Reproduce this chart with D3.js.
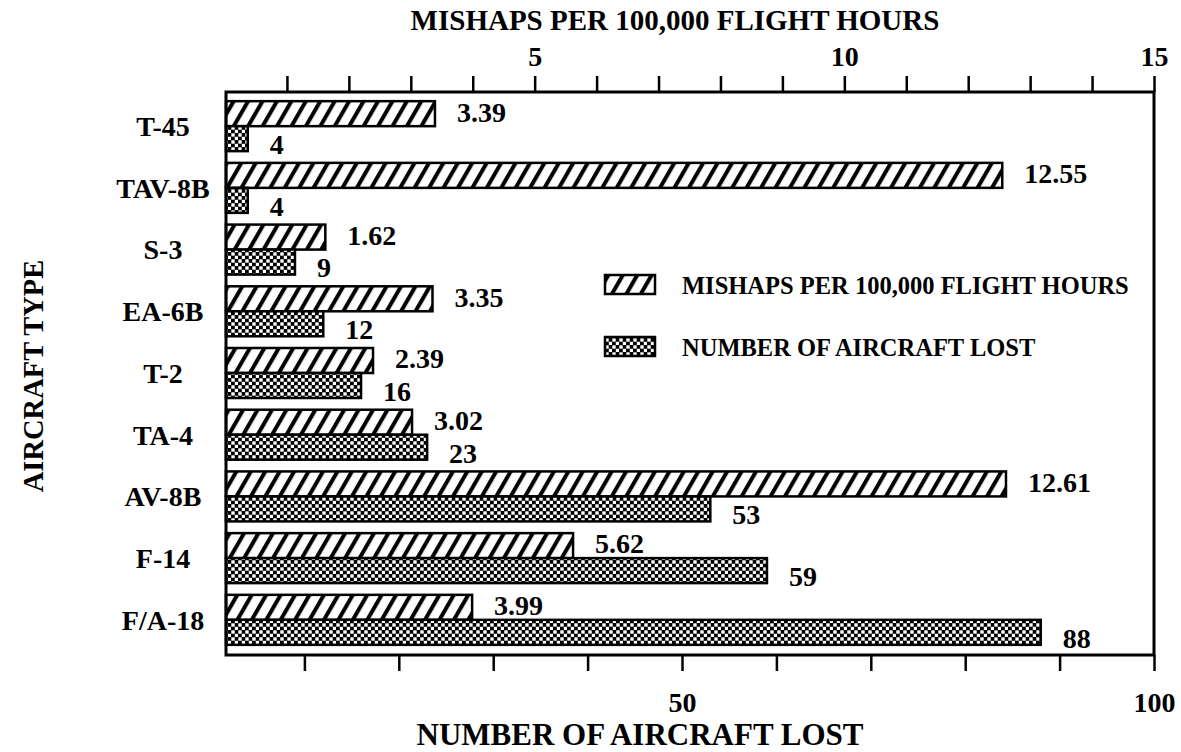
<!DOCTYPE html>
<html>
<head>
<meta charset="utf-8">
<script src="https://cdn.jsdelivr.net/npm/d3@7"></script>
<style>
  body { margin: 0; background: #fff; }
  text { font-family: "Liberation Serif", "Times New Roman", serif; font-weight: bold; fill: #000; }
</style>
</head>
<body>
<div id="chart"></div>
<script>
// aircraft types, top to bottom
var types = ["T-45", "TAV-8B", "S-3", "EA-6B", "T-2", "TA-4", "AV-8B", "F-14", "F/A-18"];
// mishaps per 100,000 flight hours (top axis)
var mishapRates = [3.39, 12.55, 1.62, 3.35, 2.39, 3.02, 12.61, 5.62, 3.99];
// number of aircraft lost (bottom axis)
var aircraftLost = [4, 4, 9, 12, 16, 23, 53, 59, 88];

var topTicks = d3.range(1, 16);
var topTickLabels = [5, 10, 15];
var bottomTicks = d3.range(10, 101, 10);
var bottomTickLabels = [50, 100];

var legendLabels = ["MISHAPS PER 100,000 FLIGHT HOURS", "NUMBER OF AIRCRAFT LOST"];

(function(){
	var W = 1181, H = 752;
	var plotLeft = 226, plotRight = 1154, plotTop = 92, plotBottom = 655;
	var fs = 28;

	var svg = d3.select("#chart").append("svg")
		.attr("width", W)
		.attr("height", H);

	var defs = svg.append("defs");

	// diagonal hatch
	var hatch = defs.append("pattern")
		.attr("id", "hatch")
		.attr("patternUnits", "userSpaceOnUse")
		.attr("width", 12.5)
		.attr("height", 12.5)
		.attr("patternTransform", "rotate(30)");
	hatch.append("rect").attr("width", 12.5).attr("height", 12.5).attr("fill", "#fff");
	hatch.append("line")
		.attr("x1", 3).attr("y1", 0).attr("x2", 3).attr("y2", 12.5)
		.attr("stroke", "#000").attr("stroke-width", 4);

	// checker
	var check = defs.append("pattern")
		.attr("id", "check")
		.attr("patternUnits", "userSpaceOnUse")
		.attr("width", 7)
		.attr("height", 7);
	check.append("rect").attr("width", 7).attr("height", 7).attr("fill", "#000");
	check.append("rect").attr("x", 0.3).attr("y", 0.3).attr("width", 3.4).attr("height", 3.4).attr("fill", "#fff");
	check.append("rect").attr("x", 3.8).attr("y", 3.8).attr("width", 3.4).attr("height", 3.4).attr("fill", "#fff");

	var xTop = d3.scaleLinear().domain([0, 15]).range([225, plotRight]);
	var xBot = d3.scaleLinear().domain([0, 100]).range([210, plotRight]);
	var y = d3.scaleBand().domain(types).range([95, 651]).paddingInner(0.19).paddingOuter(0.1);
	var half = y.bandwidth() / 2;

	// axes
	var topAxis = d3.axisTop(xTop)
		.tickValues(topTicks)
		.tickSize(16)
		.tickPadding(10)
		.tickFormat(function(d){ return topTickLabels.indexOf(d) >= 0 ? d : ""; });
	var gTop = svg.append("g").attr("transform", "translate(0," + plotTop + ")").call(topAxis);

	var bottomAxis = d3.axisBottom(xBot)
		.tickValues(bottomTicks)
		.tickSize(16)
		.tickPadding(21)
		.tickFormat(function(d){ return bottomTickLabels.indexOf(d) >= 0 ? d : ""; });
	var gBot = svg.append("g").attr("transform", "translate(0," + plotBottom + ")").call(bottomAxis);

	[gTop, gBot].forEach(function(g){
		g.select(".domain").remove();
		g.selectAll(".tick line").attr("stroke", "#000").attr("stroke-width", 2.5);
		g.selectAll(".tick text")
			.attr("font-size", fs)
			.attr("font-family", "Liberation Serif")
			.attr("font-weight", "bold");
	});

	// bars
	var rows = svg.append("g").attr("class", "rows");
	types.forEach(function(t, i){
		var y0 = y(t);
		rows.append("rect")
			.attr("x", plotLeft)
			.attr("y", y0)
			.attr("width", xTop(mishapRates[i]) - plotLeft)
			.attr("height", half)
			.attr("fill", "url(#hatch)")
			.attr("stroke", "#000")
			.attr("stroke-width", 2.5);
		rows.append("rect")
			.attr("x", plotLeft)
			.attr("y", y0 + half)
			.attr("width", xBot(aircraftLost[i]) - plotLeft)
			.attr("height", half)
			.attr("fill", "url(#check)")
			.attr("stroke", "#000")
			.attr("stroke-width", 2.5);

		rows.append("text")
			.attr("x", xTop(mishapRates[i]) + 22)
			.attr("y", y0 + half / 2)
			.attr("dy", "0.28em")
			.attr("font-size", fs)
			.text(d3.format(".2f")(mishapRates[i]));
		rows.append("text")
			.attr("x", xBot(aircraftLost[i]) + 22)
			.attr("y", y0 + half * 1.5)
			.attr("dy", "0.55em")
			.attr("font-size", fs)
			.text(aircraftLost[i]);

		svg.append("text")
			.attr("x", 163)
			.attr("y", y0 + half)
			.attr("dy", "0.35em")
			.attr("text-anchor", "middle")
			.attr("font-size", fs)
			.text(t);
	});

	// frame
	svg.append("rect")
		.attr("x", plotLeft).attr("y", plotTop)
		.attr("width", plotRight - plotLeft).attr("height", plotBottom - plotTop)
		.attr("fill", "none")
		.attr("stroke", "#000")
		.attr("stroke-width", 3);

	// legend
	var legend = svg.append("g").attr("transform", "translate(605,275)");
	["url(#hatch)", "url(#check)"].forEach(function(f, i){
		legend.append("rect")
			.attr("x", 0).attr("y", i * 62)
			.attr("width", 50).attr("height", 19)
			.attr("fill", f)
			.attr("stroke", "#000")
			.attr("stroke-width", 2.5);
		legend.append("text")
			.attr("x", 77).attr("y", i * 62 + 10)
			.attr("dy", "0.35em")
			.attr("font-size", 24.5)
			.text(legendLabels[i]);
	});

	// titles
	svg.append("text")
		.attr("x", 675).attr("y", 30)
		.attr("text-anchor", "middle")
		.attr("font-size", 29)
		.text("MISHAPS PER 100,000 FLIGHT HOURS");
	svg.append("text")
		.attr("x", 640).attr("y", 745)
		.attr("text-anchor", "middle")
		.attr("font-size", 31)
		.text("NUMBER OF AIRCRAFT LOST");
	svg.append("text")
		.attr("transform", "translate(43,376) rotate(-90)")
		.attr("text-anchor", "middle")
		.attr("font-size", 28.5)
		.text("AIRCRAFT TYPE");
})();
</script>
</body>
</html>
